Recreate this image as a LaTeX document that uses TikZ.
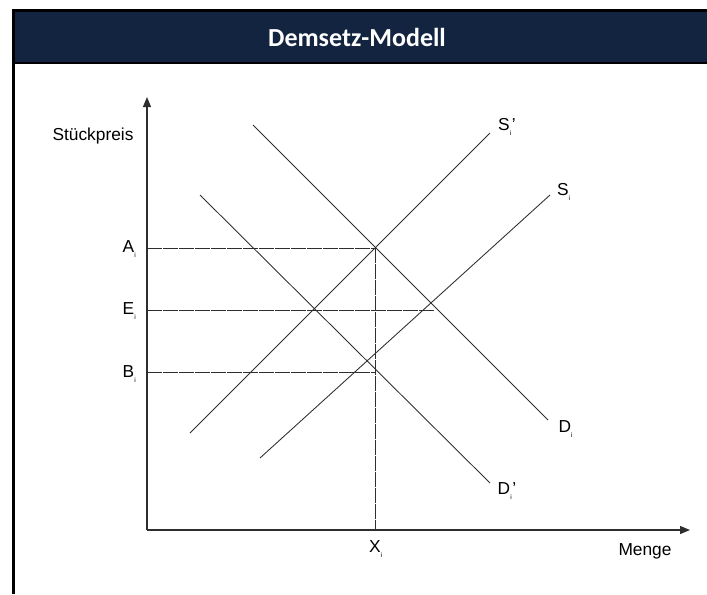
\documentclass[tikz,border=0pt]{standalone}
\usepackage{fontspec}
\setmainfont{Liberation Sans}
\newfontfamily\titlefont{Carlito}
\usetikzlibrary{arrows.meta}
\definecolor{titlenavy}{HTML}{12243F}
\definecolor{linegray}{HTML}{2E2E2E}

\begin{document}
\begin{tikzpicture}[x=0.75pt, y=-0.75pt,
  axis/.style={-{Triangle[length=7.5pt, width=6pt]}, line width=0.9pt, draw=linegray},
  curve/.style={draw=linegray, line width=0.65pt},
  guide/.style={draw=linegray, line width=0.7pt, dash pattern=on 11pt off 1pt},
  lab/.style={font=\fontsize{13}{15}\selectfont, inner sep=1pt},
]
\useasboundingbox (0,0) rectangle (707,594);

% ── Frame and title bar ─────────────────────────────────────────────────
\fill[titlenavy] (13,11) rectangle (707,62);
\draw[line width=2.2pt] (13.5,594) -- (13.5,10.5) -- (707,10.5);
\draw[line width=1.4pt] (13,63) -- (707,63);
\node[text=white, font=\titlefont\bfseries\fontsize{19.5}{23}\selectfont] (title) at (357,37) {Demsetz-Modell};

% ── Axes ────────────────────────────────────────────────────────────────
\coordinate (origin) at (147,530);
\coordinate (ytip) at (147,97);
\coordinate (xtip) at (690,530);
\draw[axis] (origin) -- (ytip);
\draw[axis] (origin) -- (xtip);
\node[lab] (ylab) at (93,136) {Stückpreis};
\node[lab] (xlab) at (645,551) {Menge};

% ── Supply and demand lines ─────────────────────────────────────────────
\coordinate (sp1) at (190,433);  \coordinate (sp2) at (490,133);
\coordinate (s1)  at (260,458);  \coordinate (s2)  at (550,195);
\coordinate (d1)  at (253,125);  \coordinate (d2)  at (548,420);
\coordinate (dp1) at (200,195);  \coordinate (dp2) at (490,483);
\draw[curve] (sp1) -- (sp2);
\draw[curve] (s1) -- (s2);
\draw[curve] (d1) -- (d2);
\draw[curve] (dp1) -- (dp2);
\newcommand{\isub}{\textsubscript{\raisebox{-1.5pt}{\tiny i}}}
\node[lab] (Sp) at (507,127) {S\isub’};
\node[lab] (S)  at (564,192) {S\isub};
\node[lab] (D)  at (566,429) {D\isub};
\node[lab] (Dp) at (507,491) {D\isub’};

% ── Price levels ────────────────────────────────────────────────────────
\coordinate (ptA) at (375,248);
\coordinate (ptE) at (435,310);
\coordinate (ptB) at (375,372);
\node[lab, anchor=east] (A) at (138,249) {A\isub};
\node[lab, anchor=east] (E) at (138,311) {E\isub};
\node[lab, anchor=east] (B) at (138,374) {B\isub};
\draw[guide] (ptA -| origin) -- (ptA);
\draw[guide] (ptE -| origin) -- (ptE);
\draw[guide] (ptB -| origin) -- (ptB);
\node[lab] (X) at (376,549) {X\isub};
\draw[guide] (ptA) -- (ptA |- origin);

\end{tikzpicture}
\end{document}
